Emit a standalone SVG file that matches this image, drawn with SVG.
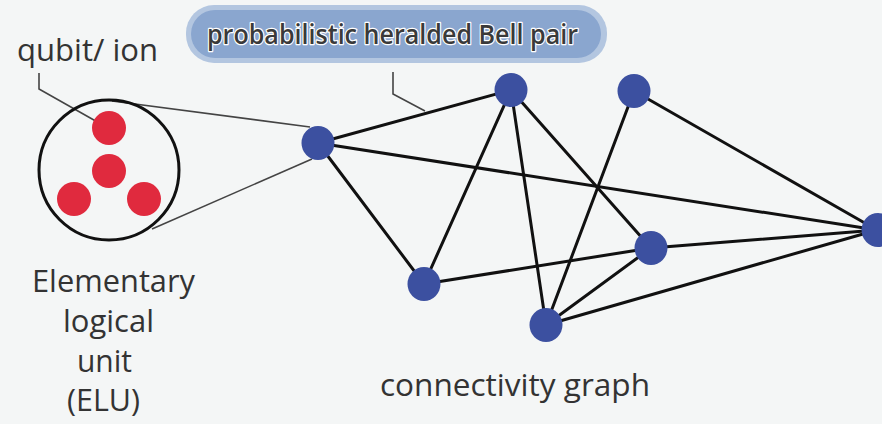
<svg xmlns="http://www.w3.org/2000/svg" width="882" height="424" viewBox="0 0 882 424">
  <style>
    .edge { stroke: #111; stroke-width: 3; stroke-linecap: round; fill: none; }
    .lead { stroke: #444; stroke-width: 1.6; fill: none; }
    .node { fill: #3c50a0; }
    .ion { fill: #e02a3e; }
    .lbl { font-family: "Open Sans", "Noto Sans", sans-serif; font-size: 31px; fill: #333; }
    .tag { font-family: "Open Sans", "Noto Sans", sans-serif; font-size: 27px; font-weight: 600; fill: #3a3a3a; stroke: #fff; stroke-width: 2.5; paint-order: stroke; stroke-linejoin: round; }
  </style>
  <rect width="882" height="424" fill="#f4f6f6"/>

  <!-- heralded Bell pair label -->
  <g id="bell-label">
    <rect x="186" y="5" width="421" height="58" rx="28" fill="#b3c6e0"/>
    <rect x="191" y="10" width="410" height="48" rx="24" fill="#8aa6cf"/>
    <text class="tag" x="207" y="44" textLength="371" lengthAdjust="spacingAndGlyphs">probabilistic heralded Bell pair</text>
  </g>

  <!-- leader lines and magnifier lines -->
  <g id="leaders">
    <path class="lead" d="M393,72 L393,94 L425,111"/>
    <path class="lead" d="M39,73 L39,89 L108,128"/>
    <path class="lead" d="M112,101 L310,127"/>
    <path class="lead" d="M152,229 L312,159"/>
  </g>

  <!-- connectivity graph edges -->
  <g id="connectors">
    <line class="edge" x1="318" y1="143" x2="511" y2="90"/>
    <line class="edge" x1="318" y1="143" x2="424" y2="284"/>
    <line class="edge" x1="318" y1="143" x2="877" y2="230"/>
    <line class="edge" x1="511" y1="90" x2="424" y2="284"/>
    <line class="edge" x1="511" y1="90" x2="546" y2="325"/>
    <line class="edge" x1="511" y1="90" x2="651" y2="248"/>
    <line class="edge" x1="634" y1="91" x2="546" y2="325"/>
    <line class="edge" x1="634" y1="91" x2="877" y2="230"/>
    <line class="edge" x1="424" y1="284" x2="651" y2="248"/>
    <line class="edge" x1="651" y1="248" x2="877" y2="230"/>
    <line class="edge" x1="546" y1="325" x2="651" y2="248"/>
    <line class="edge" x1="546" y1="325" x2="877" y2="230"/>
  </g>

  <!-- graph nodes -->
  <g id="node-a"><ellipse class="node" cx="318" cy="143" rx="16.5" ry="17"/></g>
  <g id="node-b"><ellipse class="node" cx="511" cy="90" rx="16.5" ry="17"/></g>
  <g id="node-c"><ellipse class="node" cx="634" cy="91" rx="16.5" ry="17"/></g>
  <g id="node-d"><ellipse class="node" cx="651" cy="248" rx="16.5" ry="17"/></g>
  <g id="node-e"><ellipse class="node" cx="878" cy="230" rx="16.5" ry="17"/></g>
  <g id="node-f"><ellipse class="node" cx="424" cy="284" rx="16.5" ry="17"/></g>
  <g id="node-g"><ellipse class="node" cx="546" cy="325" rx="16.5" ry="17"/></g>

  <!-- elementary logical unit with its ions -->
  <g id="elu">
    <circle cx="109" cy="170" r="70" fill="none" stroke="#111" stroke-width="3"/>
    <circle class="ion" cx="109" cy="128" r="17"/>
    <circle class="ion" cx="109" cy="171" r="17"/>
    <circle class="ion" cx="74" cy="199" r="17"/>
    <circle class="ion" cx="144" cy="199" r="17"/>
  </g>

  <g id="labels">
    <text class="lbl" x="17" y="61" font-size="29" textLength="141" lengthAdjust="spacingAndGlyphs">qubit/ ion</text>
    <text class="lbl" x="32" y="292" textLength="163" lengthAdjust="spacingAndGlyphs">Elementary</text>
    <text class="lbl" x="63" y="332" textLength="91" lengthAdjust="spacingAndGlyphs">logical</text>
    <text class="lbl" x="77" y="372" textLength="55" lengthAdjust="spacingAndGlyphs">unit</text>
    <text class="lbl" x="67" y="411" textLength="73" lengthAdjust="spacingAndGlyphs">(ELU)</text>
    <text class="lbl" x="380" y="396" textLength="270" lengthAdjust="spacingAndGlyphs">connectivity graph</text>
  </g>
</svg>
